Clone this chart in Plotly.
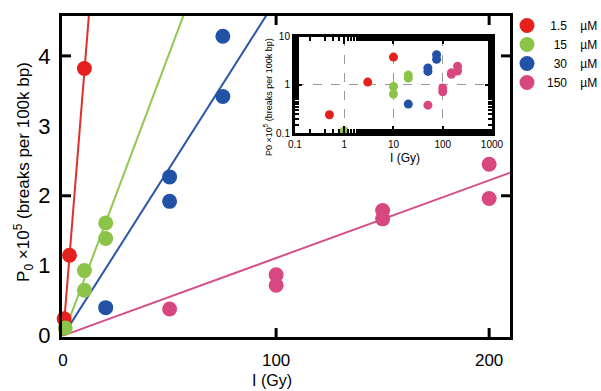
import plotly.graph_objects as go

# ---- data ----
series_names = ["1.5 µM", "15 µM", "30 µM", "150 µM"]
legend_labels = ["\u00a01.5" + "\u00a0" * 4 + "µM",
                 "\u00a0\u00a015" + "\u00a0" * 4 + "µM",
                 "\u00a0\u00a030" + "\u00a0" * 4 + "µM",
                 "150" + "\u00a0" * 4 + "µM"]
colors = ["#e4211c", "#8cc44a", "#2152a6", "#d8477f"]
line_colors = ["#e0302a", "#8fc751", "#2c56a6", "#d4508a"]

dose_1p5 = [0.5, 3, 10]
p0_1p5 = [0.24, 1.15, 3.82]
dose_15 = [1, 10, 10, 20, 20]
p0_15 = [0.11, 0.65, 0.93, 1.39, 1.61]
dose_30 = [20, 50, 50, 75, 75]
p0_30 = [0.40, 2.27, 1.92, 4.28, 3.42]
dose_150 = [50, 100, 100, 150, 150, 200, 200]
p0_150 = [0.38, 0.87, 0.72, 1.79, 1.67, 2.45, 1.96]

doses = [dose_1p5, dose_15, dose_30, dose_150]
p0s = [p0_1p5, p0_15, p0_30, p0_150]
fit_slopes = [0.378, 0.081, 0.048, 0.0111]
fit_x = [0, 210]

x_ticks = [0, 100, 200]
x_major_marks = [100, 200]
y_ticks = [0, 1, 2, 3, 4]
y_major_marks = [2, 4]
inset_x_ticks = [0.1, 1, 10, 100, 1000]
inset_x_text = ["0.1", "1", "10", "100", "1000"]
inset_y_ticks = [0.1, 1, 10]
inset_y_text = ["0.1", "1", "10"]

FONT = "Liberation Sans, Arial, Helvetica, sans-serif"

fig = go.Figure()

# fit lines
for i in range(4):
    fig.add_trace(go.Scatter(
        x=fit_x, y=[s * fit_slopes[i] for s in fit_x], mode="lines",
        line=dict(color=line_colors[i], width=2), showlegend=False,
        hoverinfo="skip", xaxis="x", yaxis="y"))

# main points
for i in range(4):
    fig.add_trace(go.Scatter(
        x=doses[i], y=p0s[i], mode="markers", name=legend_labels[i],
        marker=dict(color=colors[i], size=15, line=dict(width=0)),
        xaxis="x", yaxis="y", cliponaxis=False))

# inset points
for i in range(4):
    fig.add_trace(go.Scatter(
        x=doses[i], y=p0s[i], mode="markers", showlegend=False,
        marker=dict(color=colors[i], size=9, line=dict(width=0)),
        xaxis="x2", yaxis="y2", cliponaxis=False))

fig.update_layout(
    width=601, height=391,
    margin=dict(l=0, r=0, t=0, b=0, autoexpand=False),
    paper_bgcolor="white", plot_bgcolor="rgba(0,0,0,0)",
    font=dict(family=FONT, color="black"),
    showlegend=True,
    legend=dict(x=0.8436, y=0.972, xanchor="left", yanchor="top",
                font=dict(size=12, family=FONT), bgcolor="rgba(0,0,0,0)",
                itemsizing="trace", tracegroupgap=0),
    xaxis=dict(domain=[0.1032, 0.8486], range=[-0.5, 209.8],
               showline=True, linewidth=3, linecolor="black", mirror=True,
               tickvals=x_ticks, ticks="", tickfont=dict(size=17),
               ticklabelstandoff=6,
               showgrid=False, zeroline=False, anchor="y"),
    yaxis=dict(domain=[0.138, 0.959], range=[-0.02, 4.57],
               showline=True, linewidth=3, linecolor="black", mirror=True,
               tickvals=y_ticks, ticks="", tickfont=dict(size=22),
               ticklabelstandoff=4,
               showgrid=False, zeroline=False, anchor="x"),
    xaxis2=dict(domain=[0.4908, 0.8186], type="log", range=[-1, 3],
                anchor="y2", showline=True, linewidth=3, linecolor="black",
                mirror="allticks", tickvals=inset_x_ticks, ticktext=inset_x_text,
                ticks="inside", ticklen=7, tickwidth=2, tickcolor="black",
                minor=dict(ticks="inside", ticklen=4, tickwidth=1.5,
                           tickcolor="black", showgrid=False),
                tickfont=dict(size=10),
                showgrid=True, gridcolor="#9a9a9a", gridwidth=1, griddash="dash",
                zeroline=False),
    yaxis2=dict(domain=[0.6598, 0.9054], type="log", range=[-1, 1],
                anchor="x2", showline=True, linewidth=3, linecolor="black",
                mirror="allticks", tickvals=inset_y_ticks, ticktext=inset_y_text,
                ticks="inside", ticklen=7, tickwidth=2, tickcolor="black",
                minor=dict(ticks="inside", ticklen=4, tickwidth=1.5,
                           tickcolor="black", showgrid=False),
                tickfont=dict(size=10),
                showgrid=True, gridcolor="#9a9a9a", gridwidth=1, griddash="dash",
                zeroline=False),
)

# main-axis tick marks (inside, mirrored on all sides)
tick_line = dict(color="black", width=3)
for xv in x_major_marks:
    fig.add_shape(type="line", xref="x", yref="y domain", x0=xv, x1=xv,
                  y0=0, y1=0.028, line=tick_line)
    fig.add_shape(type="line", xref="x", yref="y domain", x0=xv, x1=xv,
                  y0=1, y1=0.972, line=tick_line)
for yv in y_major_marks:
    fig.add_shape(type="line", xref="x domain", yref="y", x0=0, x1=0.02,
                  y0=yv, y1=yv, line=tick_line)
    fig.add_shape(type="line", xref="x domain", yref="y", x0=1, x1=0.98,
                  y0=yv, y1=yv, line=tick_line)

ann = dict(xref="paper", yref="paper", showarrow=False,
           xanchor="center", yanchor="middle")
fig.add_annotation(text="P<sub>0</sub> ×10<sup>5</sup> (breaks per 100k bp)",
                   x=0.038, y=0.56, textangle=-90,
                   font=dict(size=17, family=FONT), **ann)
fig.add_annotation(text="I (Gy)", x=0.4526, y=0.028,
                   font=dict(size=16, family=FONT), **ann)
fig.add_annotation(text="P0 ×10<sup>5</sup> (breaks per 100k bp)",
                   x=0.446, y=0.752, textangle=-90,
                   font=dict(size=9, family=FONT), **ann)
fig.add_annotation(text="I (Gy)", x=0.674, y=0.596,
                   font=dict(size=12, family=FONT), **ann)

fig.write_html("out.html")
